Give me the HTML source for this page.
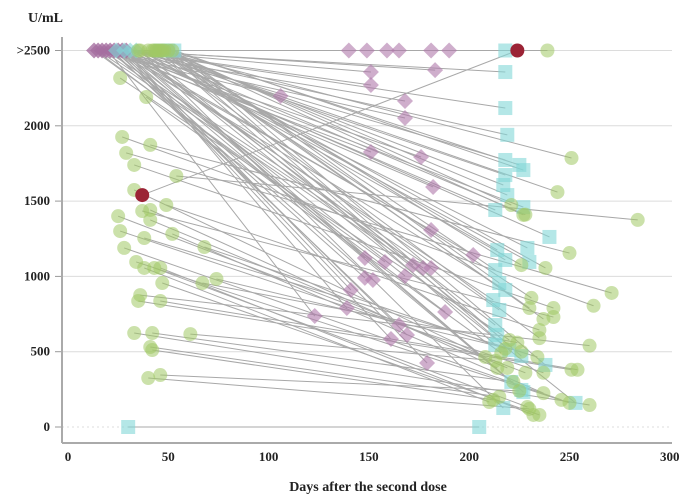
<!DOCTYPE html>
<html><head><meta charset="utf-8"><style>
body{margin:0;background:#fff}
svg text{font-family:"Liberation Serif",serif;font-weight:bold;fill:#222}
</style></head><body>
<svg id="c" width="700" height="498"></svg>
<script>
const xTicks=[0,50,100,150,200,250,300];
const yTicks=[0,500,1000,1500,2000,2500];
const yTickLabels=["0","500","1000","1500","2000",">2500"];
const gSD=[52,45,40,35,54,41,29,27,33,37,48,44,46,49,42,26,39,33,41,41,25,26,38,52,28,34,38,43,46,47,36,35,46,33,50,47,36,43,42,41,42,40,46,68,67,74,61];
const gSV=[2500,2500,2500,2500,1667,1873,1820,1926,1740,1434,2500,2500,2500,1474,2500,2317,2191,1574,1441,1375,1400,1301,1255,1282,1189,1096,1056,1056,1056,956,876,837,837,624,2500,2500,2500,2500,624,531,511,325,345,1195,956,983,617];
const gED=[239,251,244,228,284,250,271,262,242,242,237,231,230,235,235,220,216,208,214,219,228,237,234,237,246,250,210,229,232,235,260,251,254,260,221,227,226,238,222,215,212,230,225,218,224,226,213];
const gEV=[2500,1786,1560,1410,1375,1155,890,805,790,730,717,857,790,644,590,578,490,465,392,392,360,360,465,225,180,160,166,133,80,80,540,380,380,146,1474,1408,1075,1056,300,200,180,120,240,520,560,500,440];
const cSD=[55,24,27,30,33,36,45,48,51,53,24,27,30,33,36,45,48,51,53,24,27,30,33,36,45,48,51,53,24,27,30,33,36,30];
const cSV=[2500,2500,2500,2500,2500,2500,2500,2500,2500,2500,2500,2500,2500,2500,2500,2500,2500,2500,2500,2500,2500,2500,2500,2500,2500,2500,2500,2500,2500,2500,2500,2500,2500,0];
const cED=[218,218,218,219,218,218,217,219,225,227,227,213,240,229,230,214,218,213,215,218,212,215,213,214,213,220,226,238,221,226,227,253,217,205];
const cEV=[2500,2357,2118,1940,1773,1673,1607,1540,1740,1706,1460,1441,1262,1189,1096,1175,1109,1042,956,910,843,777,677,611,545,511,471,412,299,246,232,160,126,0];
const pSD=[13,15,17,19,21,23,25,27,29,13,15,17,19,21,23,25,27,29,13,15,17,19,21,23,25,27,29,20,22,24,26,28,14];
const pSV=[2500,2500,2500,2500,2500,2500,2500,2500,2500,2500,2500,2500,2500,2500,2500,2500,2500,2500,2500,2500,2500,2500,2500,2500,2500,2500,2500,2500,2500,2500,2500,2500,2500];
const pED=[140,149,159,165,181,190,151,151,183,106,168,168,151,176,182,181,202,148,158,172,177,181,148,152,168,141,139,123,165,169,161,179,188];
const pEV=[2500,2500,2500,2500,2500,2500,2357,2271,2370,2198,2165,2052,1826,1793,1594,1308,1142,1122,1096,1076,1056,1056,990,976,1003,910,790,737,677,611,584,425,764];
const redD=[37,224], redV=[1540,2500];
const topPurple=[13,15,17,19,21,23,25,27,29];
const topCyanDia=[24,28,31,34];
const topCyanSq=[46,50,53];
const xs=d=>68+d*2.006, ys=v=>427-v*0.1506;
const svg=document.getElementById('c'),NS='http://www.w3.org/2000/svg';
function mk(t,a,p){const e=document.createElementNS(NS,t);for(const k in a)e.setAttribute(k,a[k]);(p||svg).appendChild(e);return e;}
yTicks.forEach((t,i)=>{
 const y=ys(t);
 const g=mk('line',{x1:62,x2:672,y1:y,y2:y,stroke:'#dcdcdc','stroke-width':1,'stroke-dasharray':t===0?'2,3':''});
 
 
 const tk=mk('line',{x1:55,x2:62,y1:y,y2:y,stroke:'#999'});
 
 
 const tx=mk('text',{x:50,y:y+4,'text-anchor':'end','font-size':13});tx.textContent=yTickLabels[i];
 
 
});
xTicks.forEach(t=>{
 const tx=mk('text',{x:xs(t),y:461,'text-anchor':'middle','font-size':13});tx.textContent=t;
 
 
});
const ya=mk('line',{x1:62,x2:62,y1:37,y2:443,stroke:'#aaa','stroke-width':2});


const xa=mk('line',{x1:62,x2:672,y1:443,y2:443,stroke:'#aaa','stroke-width':2});


const yt=mk('text',{x:28,y:22,'font-size':14});yt.textContent='U/mL';


const xt=mk('text',{x:368,y:491,'text-anchor':'middle','font-size':14});xt.textContent='Days after the second dose';


const lg=mk('g',{});
function line(a,b,c,d){const l=mk('line',{x1:xs(a),y1:ys(b),x2:xs(c),y2:ys(d),stroke:'#a8a8a8','stroke-width':1},lg);
 
 }
gSD.forEach((_,i)=>line(gSD[i],gSV[i],gED[i],gEV[i]));
cSD.forEach((_,i)=>line(cSD[i],cSV[i],cED[i],cEV[i]));
pSD.forEach((_,i)=>line(pSD[i],pSV[i],pED[i],pEV[i]));
line(redD[0],redV[0],redD[1],redV[1]);
line(54,2500,190,2500);
const GC='rgba(160,200,100,0.55)',CC='rgba(130,215,215,0.6)',PC='rgba(175,120,170,0.6)';
function circ(d,v,col,r){const e=mk('circle',{cx:xs(d),cy:ys(v),r:r||7,fill:col});
 
 }
function sq(d,v){const e=mk('rect',{x:xs(d)-7,y:ys(v)-7,width:14,height:14,fill:CC});
 
 }
function dia(d,v,col){const x=xs(d),y=ys(v);const e=mk('polygon',{points:`${x},${y-8} ${x+8},${y} ${x},${y+8} ${x-8},${y}`,fill:col});
 
 }
pSD.forEach((_,i)=>dia(pED[i],pEV[i],PC));
topPurple.forEach(d=>dia(d,2500,'rgba(165,110,160,0.8)'));
topCyanDia.forEach(d=>dia(d,2500,CC));
cSD.forEach((_,i)=>sq(cED[i],cEV[i]));
sq(30,0);
topCyanSq.forEach(d=>sq(d,2500));
gSD.forEach((_,i)=>{circ(gSD[i],gSV[i],GC);circ(gED[i],gEV[i],GC);});
circ(redD[0],redV[0],'#9b2335',7);circ(redD[1],redV[1],'#9b2335',7);
</script>
</body></html>
